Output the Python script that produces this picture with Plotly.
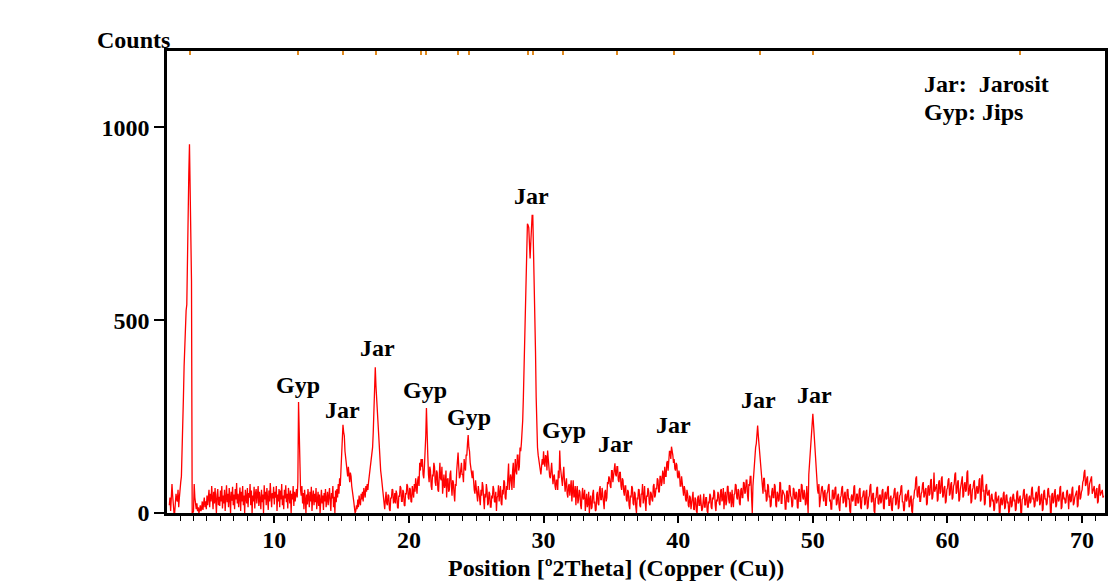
import numpy as np
import plotly.graph_objects as go

# Counts, one row per degree 2-theta (x.00, x.05, ... x.95)
counts = [
    20, 40, 5, 30, 75, 45, 10, 0, 0, 25, 50, 35, 30, 60, 15, 40,                              # 2.20-2.95
    70, 80, 95, 150, 218, 300, 380, 440, 470, 525, 540, 700, 745, 880, 956, 830, 820, 600, 0, 0,  # 3
    5, 75, 40, 20, 10, 25, 5, 15, 0, 8, 20, 5, 12, 30, 8, 25, 40, 15, 30, 10,                  # 4
    45, 20, 35, 60, 15, 50, 30, 70, 40, 10, 55, 25, 65, 35, 0, 48, 62, 20, 42, 18,             # 5
    58, 30, 70, 12, 45, 25, 60, 5, 38, 72, 28, 50, 15, 65, 40, 0, 55, 32, 68, 20,              # 6
    48, 10, 62, 35, 78, 25, 50, 15, 42, 66, 5, 55, 30, 70, 20, 45, 0, 60, 38, 25,              # 7
    65, 15, 52, 40, 75, 20, 58, 0, 45, 30, 68, 12, 50, 62, 25, 40, 70, 18, 55, 35,             # 8
    10, 60, 28, 48, 0, 72, 35, 55, 20, 65, 42, 8, 58, 30, 78, 45, 15, 52, 38, 68,              # 9
    22, 55, 40, 70, 5, 48, 30, 62, 15, 58, 35, 75, 20, 45, 10, 60, 38, 72, 28, 50,             # 10
    12, 65, 42, 25, 58, 0, 50, 35, 70, 18, 55, 30, 48, 62, 40, 80, 288, 200, 120, 60,          # 11
    45, 70, 25, 52, 10, 60, 35, 0, 48, 22, 62, 38, 15, 55, 30, 68, 5, 42, 58, 20,              # 12
    50, 28, 65, 10, 40, 55, 18, 48, 0, 35, 60, 25, 45, 8, 52, 30, 62, 15, 38, 55,              # 13
    20, 48, 65, 30, 5, 52, 38, 70, 15, 42, 0, 58, 28, 62, 40, 75, 50, 90, 70, 110,             # 14
    150, 190, 229, 210, 200, 160, 140, 120, 110, 95, 120, 100, 80, 105, 95, 70, 60, 45, 30, 15,  # 15
    0, 5, 20, 10, 35, 15, 45, 28, 20, 50, 35, 55, 30, 65, 48, 40, 70, 55, 75, 60,              # 16
    80, 95, 100, 120, 130, 150, 170, 210, 260, 320, 378, 330, 300, 250, 220, 180, 150, 130, 110, 95,  # 17
    80, 60, 40, 20, 10, 35, 55, 25, 20, 48, 45, 10, 5, 40, 38, 62, 60, 25, 30, 52,             # 18
    25, 58, 50, 15, 12, 45, 42, 70, 65, 30, 30, 60, 55, 20, 18, 52, 48, 75, 70, 40,            # 19
    35, 65, 62, 30, 28, 70, 58, 40, 75, 55, 90, 60, 50, 85, 95, 70, 130, 110, 140, 120,        # 20
    140, 100, 90, 120, 150, 200, 272, 180, 150, 100, 80, 120, 110, 70, 60, 100, 95, 130, 120, 80,  # 21
    70, 110, 105, 60, 55, 95, 130, 90, 85, 120, 50, 75, 100, 65, 75, 110, 40, 85, 90, 55,      # 22
    60, 100, 110, 70, 45, 85, 80, 50, 30, 75, 70, 110, 140, 157, 120, 90, 95, 130, 130, 100,   # 23
    100, 80, 140, 120, 110, 150, 150, 180, 202, 170, 160, 130, 120, 100, 90, 110, 75, 60, 50, 85,  # 24
    65, 40, 30, 70, 55, 25, 20, 60, 45, 80, 70, 35, 10, 50, 40, 75, 60, 20, 25, 55,            # 25
    50, 15, 15, 45, 38, 70, 62, 30, 28, 55, 5, 40, 45, 72, 30, 50, 70, 25, 20, 60,             # 26
    48, 85, 80, 40, 35, 70, 60, 95, 128, 60, 75, 100, 90, 60, 110, 130, 65, 100, 140, 110,     # 27
    100, 150, 150, 110, 120, 170, 160, 180, 200, 240, 300, 370, 400, 480, 560, 650, 750, 746, 740, 700,  # 28
    660, 700, 768, 772, 772, 700, 620, 520, 420, 300, 196, 170, 150, 136, 130, 110, 100, 120, 140, 125,  # 29
    160, 130, 120, 150, 145, 110, 162, 140, 110, 95, 90, 120, 130, 100, 75, 95, 100, 70, 60, 85,  # 30
    85, 60, 110, 90, 162, 120, 95, 80, 70, 100, 120, 85, 55, 75, 90, 50, 40, 70, 75, 45,       # 31
    60, 85, 30, 50, 85, 40, 45, 70, 20, 55, 70, 25, 35, 60, 55, 20, 10, 45, 65, 35,            # 32
    40, 60, 5, 30, 50, 15, 25, 55, 0, 35, 45, 10, 15, 50, 60, 25, 30, 5, 8, 48,                # 33
    55, 25, 20, 60, 70, 35, 35, 65, 48, 15, 10, 55, 60, 30, 40, 80, 75, 95, 90, 70,            # 34
    65, 110, 110, 80, 100, 129, 129, 100, 95, 120, 120, 85, 80, 105, 105, 70, 60, 90, 85, 55,  # 35
    45, 70, 70, 35, 30, 60, 55, 20, 10, 45, 40, 70, 65, 25, 20, 55, 50, 15, 0, 40,             # 36
    35, 62, 60, 20, 15, 50, 48, 75, 25, 40, 70, 30, 5, 45, 42, 65, 58, 25, 20, 55,             # 37
    50, 35, 30, 70, 75, 40, 45, 65, 62, 90, 85, 55, 55, 95, 95, 70, 80, 110, 100, 75,          # 38
    120, 95, 95, 130, 135, 110, 150, 160, 160, 140, 172, 165, 150, 130, 140, 115, 110, 130, 125, 95,  # 39
    90, 110, 100, 70, 70, 95, 80, 55, 45, 70, 60, 35, 30, 60, 50, 20, 15, 45, 40, 10,          # 40
    25, 50, 55, 10, 8, 40, 35, 5, 0, 40, 45, 20, 20, 48, 30, 5, 10, 45, 50, 15,                # 41
    15, 40, 40, 5, 0, 30, 25, 50, 45, 15, 10, 40, 35, 60, 55, 20, 5, 35, 30, 55,               # 42
    48, 25, 20, 58, 62, 30, 38, 65, 10, 40, 55, 20, 30, 68, 70, 35, 25, 55, 45, 15,            # 43
    60, 30, 15, 48, 50, 75, 72, 40, 35, 62, 58, 25, 20, 60, 65, 40, 40, 80, 78, 50,            # 44
    55, 85, 85, 45, 30, 75, 70, 95, 95, 40, 0, 70, 100, 120, 150, 170, 180, 200, 227, 200,     # 45
    180, 150, 130, 100, 80, 60, 50, 90, 90, 55, 60, 30, 35, 75, 70, 40, 45, 15, 20, 55,        # 46
    65, 40, 40, 75, 70, 20, 15, 55, 50, 30, 35, 80, 78, 25, 25, 60, 55, 45, 45, 10,            # 47
    10, 55, 58, 30, 28, 72, 70, 45, 40, 15, 20, 65, 62, 38, 35, 55, 52, 15, 12, 60,            # 48
    62, 30, 30, 75, 72, 40, 35, 60, 50, 20, 25, 70, 0, 0, 100, 130, 160, 180, 200, 230,        # 49
    257, 230, 200, 160, 130, 100, 80, 60, 50, 75, 15, 40, 45, 65, 70, 30, 30, 55, 60, 20,      # 50
    20, 50, 55, 70, 75, 30, 35, 10, 10, 58, 60, 35, 40, 65, 68, 20, 25, 45, 50, 15,            # 51
    5, 40, 45, 65, 70, 25, 30, 50, 55, 15, 18, 60, 62, 35, 38, 5, 0, 42, 48, 30,               # 52
    35, 68, 72, 20, 20, 48, 50, 25, 28, 60, 65, 15, 10, 40, 42, 55, 58, 20, 25, 55,            # 53
    60, 10, 15, 40, 45, 70, 75, 28, 30, 50, 52, 5, 0, 38, 40, 65, 68, 25, 22, 45,              # 54
    48, 25, 30, 58, 62, 12, 10, 50, 55, 35, 38, 65, 70, 20, 20, 40, 45, 10, 5, 38,             # 55
    40, 60, 65, 20, 25, 50, 55, 10, 15, 45, 48, 68, 72, 28, 30, 5, 8, 45, 50, 30,              # 56
    35, 55, 60, 15, 20, 40, 45, 5, 0, 35, 38, 58, 62, 90, 95, 45, 40, 65, 70, 30,              # 57
    30, 50, 55, 75, 80, 40, 45, 60, 65, 20, 25, 68, 72, 45, 50, 85, 88, 35, 40, 60,            # 58
    105, 55, 60, 70, 75, 30, 35, 80, 85, 50, 55, 90, 95, 40, 45, 65, 70, 25, 30, 60,           # 59
    65, 85, 90, 45, 50, 75, 80, 35, 40, 70, 75, 100, 105, 50, 55, 80, 85, 30, 35, 60,          # 60
    70, 90, 95, 40, 45, 75, 80, 55, 60, 105, 110, 45, 50, 70, 75, 25, 30, 60, 65, 80,          # 61
    85, 35, 40, 65, 70, 50, 55, 85, 90, 30, 35, 95, 100, 55, 60, 20, 25, 70, 75, 50,           # 62
    45, 55, 60, 15, 20, 45, 50, 30, 35, 5, 10, 50, 55, 25, 30, 40, 45, 0, 0, 35,               # 63
    40, 20, 25, 50, 55, 10, 15, 45, 48, 25, 30, 0, 5, 38, 42, 15, 20, 45, 50, 30,              # 64
    35, 5, 10, 52, 58, 25, 28, 40, 45, 0, 0, 35, 38, 58, 62, 20, 22, 45, 50, 15,               # 65
    15, 40, 45, 25, 30, 62, 68, 35, 40, 15, 20, 50, 55, 30, 35, 65, 70, 20, 25, 45,            # 66
    50, 5, 10, 55, 60, 35, 38, 20, 25, 60, 65, 40, 45, 0, 0, 48, 52, 25, 30, 55,               # 67
    62, 15, 20, 45, 48, 30, 35, 65, 70, 10, 15, 50, 55, 35, 40, 25, 28, 55, 60, 40,            # 68
    10, 45, 50, 28, 32, 62, 68, 20, 25, 40, 45, 52, 58, 15, 20, 68, 72, 35, 40, 55,            # 69
    60, 80, 85, 105, 112, 70, 75, 90, 95, 45, 50, 75, 80, 90, 95, 50, 55, 65, 70, 40,          # 70
    40, 60, 65, 25, 30, 70, 75, 45, 50, 55, 60, 40, 45,                                        # 71.00-71.60
]
assert len(counts) == 1389, len(counts)

# Scan positions: regular 0.05 degree steps starting at 2.20 degrees 2-theta
scan_start = 2.2
scan_step = 0.05
two_theta = np.round(scan_start + scan_step * np.arange(len(counts)), 3)

# Reference peak positions marked on the top axis
ref_peaks = [3.71, 11.78, 15.13, 17.53, 20.93, 21.30, 23.62, 24.48, 28.87,
             29.25, 31.46, 35.49, 39.65, 46.04, 50.04, 65.41]

# Peak labels
label_text = ["Gyp", "Jar", "Jar", "Gyp", "Gyp", "Jar", "Gyp", "Jar", "Jar", "Jar", "Jar"]
label_x = [11.78, 15.03, 17.70, 21.18, 24.43, 29.10, 31.54, 35.31, 39.68, 45.97, 50.12]
label_y = [333, 266, 427, 318, 248, 822, 214, 180, 227, 294, 305]

x_ticks = [10, 20, 30, 40, 50, 60, 70]
y_ticks = [0, 500, 1000]

FONT = "Liberation Serif"
fsize = 24

fig = go.Figure()
fig.add_trace(go.Scatter(x=two_theta, y=counts, mode="lines",
                         line=dict(color="#FF0000", width=1.3),
                         hoverinfo="skip", showlegend=False))
# invisible trace on the top axis carrying the reference-peak ticks
fig.add_trace(go.Scatter(x=[ref_peaks[0]], y=[None], xaxis="x2", mode="lines",
                         showlegend=False, hoverinfo="skip"))

for t, xx, yy in zip(label_text, label_x, label_y):
    fig.add_annotation(x=xx, y=yy, text="<b>%s</b>" % t, showarrow=False,
                       font=dict(family=FONT, size=fsize, color="black"),
                       xanchor="center", yanchor="middle")

fig.add_annotation(xref="paper", yref="paper", x=-0.0765, y=1.024,
                   text="<b>Counts</b>", showarrow=False, xanchor="left", yanchor="middle",
                   font=dict(family=FONT, size=fsize, color="black"))
fig.add_annotation(xref="paper", yref="paper", x=0.479, y=-0.119,
                   text="<b>Position [º2Theta] (Copper (Cu))</b>", showarrow=False,
                   xanchor="center", yanchor="middle",
                   font=dict(family=FONT, size=fsize, color="black"))
fig.add_annotation(xref="paper", yref="paper", x=0.8045, y=0.9286,
                   text="<b>Jar:\u00a0\u00a0Jarosit</b>", showarrow=False,
                   xanchor="left", yanchor="middle",
                   font=dict(family=FONT, size=fsize, color="black"))
fig.add_annotation(xref="paper", yref="paper", x=0.8045, y=0.868,
                   text="<b>Gyp: Jips</b>", showarrow=False,
                   xanchor="left", yanchor="middle",
                   font=dict(family=FONT, size=fsize, color="black"))

fig.update_layout(
    width=1117, height=584,
    margin=dict(l=167, r=9, t=51, b=71),
    paper_bgcolor="white", plot_bgcolor="white",
    xaxis=dict(range=[2.03, 71.7], tickvals=x_ticks, ticks="outside", ticklen=7,
               tickwidth=1.5, tickcolor="black", showline=True, linecolor="black",
               linewidth=2.5, mirror=True, showgrid=False, zeroline=False,
               ticklabelstandoff=-4,
               tickfont=dict(family=FONT, size=fsize, color="black", weight="bold"),
               minor=dict(dtick=1, ticks="outside", ticklen=5, tickwidth=1,
                          tickcolor="black", showgrid=False)),
    xaxis2=dict(range=[2.03, 71.7], overlaying="x", side="top", tickvals=ref_peaks,
                ticks="inside", ticklen=4, tickwidth=1.5, tickcolor="#E08A1E",
                showticklabels=False, showline=False, showgrid=False, zeroline=False),
    yaxis=dict(range=[0, 1198], tickvals=y_ticks, ticks="outside", ticklen=10,
               tickwidth=1.5, tickcolor="black", showline=True, linecolor="black",
               linewidth=2.5, mirror=True, showgrid=False, zeroline=False,
               tickfont=dict(family=FONT, size=fsize, color="black", weight="bold")),
)

fig.write_html("out.html", config={"displayModeBar": False},
               post_script="document.body.style.margin='0';")
